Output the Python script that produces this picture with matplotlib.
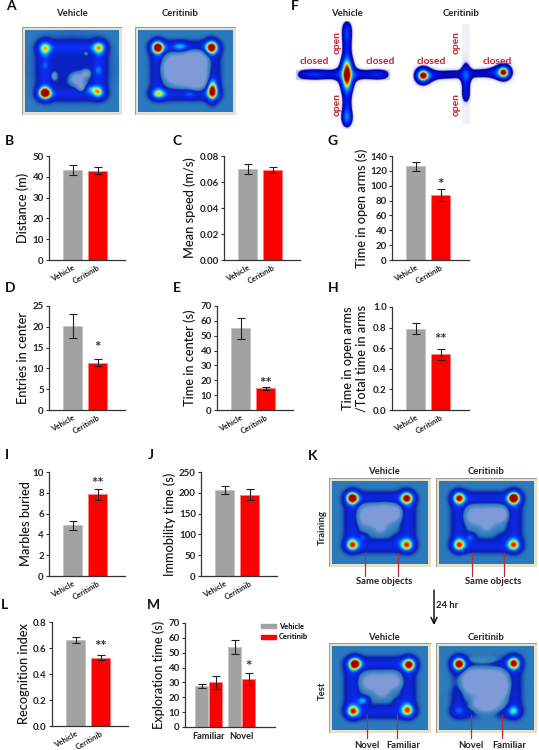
import numpy as np
import matplotlib
matplotlib.use("Agg")
import matplotlib.pyplot as plt
from matplotlib.colors import LinearSegmentedColormap
from matplotlib.patches import Rectangle, Patch
from matplotlib.transforms import ScaledTranslation

W, H = 539, 750
plt.rcParams['font.family'] = ['Lato', 'DejaVu Sans']

GRAY = "#a2a2a2"
RED = "#ff0000"
groups = ["Vehicle", "Ceritinib"]

# bar values
dist_val, dist_err = [43.5, 43.0], [2.4, 1.8]
speed_val, speed_err = [0.070, 0.0695], [0.0036, 0.0022]
entries_val, entries_err = [20.2, 11.4], [2.85, 0.75]
center_val, center_err = [55, 14.5], [7.2, 0.8]
open_val, open_err = [126, 87], [6, 8]
ratio_val, ratio_err = [0.79, 0.54], [0.05, 0.056]
marbles_val, marbles_err = [4.9, 7.85], [0.43, 0.5]
immob_val, immob_err = [206, 195], [10, 13]
recog_val, recog_err = [0.66, 0.525], [0.022, 0.018]
explore_labels = ["Familiar", "Novel"]
explore_veh, explore_veh_err = [27.8, 54], [1.4, 4.8]
explore_cer, explore_cer_err = [30, 32.3], [4.2, 4.2]

# heat map spots: x, y, amplitude, sigma x, sigma y (fractions of the box)
TRACK_X = [0.2, 0.28, 0.36, 0.44, 0.52, 0.6, 0.68, 0.76, 0.8]
TRACK_Y = [0.22, 0.3, 0.38, 0.46, 0.54, 0.62, 0.7, 0.78]

a_veh_hot = [(.21, .22, .3, .045, .06), (.79, .21, .28, .045, .055), (.21, .77, .72, .045, .05),
             (.72, .72, .25, .055, .035), (.78, .76, .2, .035, .035), (.21, .43, .08, .03, .03),
             (.78, .49, .12, .03, .035), (.5, .45, .1, .2, .2)]
a_veh_holes = [(.31, .56, .28, .02, .03), (.56, .6, .5, .05, .05), (.65, .53, .38, .03, .03),
               (.65, .28, .16, .02, .02), (.6, .7, .3, .03, .04)]
a_cer_hot = [(.205, .21, .72, .042, .052), (.445, .2, .25, .055, .035), (.775, .21, .62, .042, .055),
             (.785, .735, .58, .035, .08), (.215, .78, .3, .05, .04), (.545, .785, .13, .04, .03),
             (.2, .38, .06, .03, .03)]
a_cer_holes = [(.38, .45, .6, .08, .09), (.6, .4, .7, .09, .09), (.5, .58, .5, .12, .07),
               (.63, .6, .42, .06, .08)]

ktr_veh_hot = [(.21, .2, .72, .043, .05), (.78, .2, .55, .043, .05), (.21, .77, .45, .043, .05),
               (.78, .77, .38, .043, .05), (.32, .68, .2, .035, .035), (.69, .7, .12, .04, .04)]
ktr_veh_holes = [(.38, .42, .5, .07, .08), (.55, .4, .5, .08, .08), (.66, .38, .34, .04, .05),
                 (.5, .55, .34, .04, .05)]
ktr_cer_hot = [(.21, .2, .55, .043, .05), (.79, .2, .72, .043, .05), (.21, .77, .45, .043, .05),
               (.79, .77, .38, .043, .05), (.33, .68, .25, .035, .035), (.68, .68, .08, .05, .04)]
ktr_cer_holes = [(.38, .42, .42, .07, .07), (.55, .42, .5, .08, .07), (.66, .4, .34, .04, .05),
                 (.5, .55, .24, .04, .04)]
kte_veh_hot = [(.24, .21, .72, .043, .05), (.81, .22, .58, .043, .05), (.22, .78, .47, .043, .05),
               (.79, .76, .38, .043, .05), (.32, .65, .36, .04, .035), (.70, .67, .12, .04, .035)]
kte_veh_holes = [(.42, .43, .5, .07, .06), (.6, .42, .5, .08, .06), (.52, .54, .34, .05, .05)]
kte_cer_hot = [(.21, .21, .72, .043, .05), (.79, .2, .58, .043, .05), (.19, .78, .06, .04, .04),
               (.79, .78, .18, .04, .045), (.32, .67, .08, .03, .03), (.65, .6, .04, .02, .02)]
kte_cer_holes = [(.36, .42, .65, .09, .09), (.55, .42, .65, .1, .09), (.5, .7, .55, .1, .07),
                 (.46, .17, .14, .12, .03), (.65, .5, .5, .05, .08)]

maze_veh = [(.5, .5, .72, .028, .075), (.5, .5, .35, .055, .095),
            (.5, .1, .1, .035, .08), (.5, .9, .2, .035, .06), (.2, .5, .1, .07, .03), (.78, .5, .08, .05, .03)]
for yy in [.07, .14, .21, .28, .35, .42, .58, .65, .72, .79, .86, .92]:
    maze_veh.append((.5, yy, .17, .032, .045))
for xx in [.08, .15, .22, .29, .36, .43, .57, .64, .71, .78, .85]:
    maze_veh.append((xx, .5, .17, .04, .036))

maze_cer = [(.1, .51, .78, .03, .03), (.1, .51, .32, .06, .065), (.85, .48, .78, .03, .03),
            (.85, .48, .32, .06, .06), (.5, .51, .28, .035, .06), (.5, .5, .12, .03, .13),
            (.5, .68, .22, .03, .06)]
for xx in [.14, .21, .28, .35, .42, .58, .65, .72, .78]:
    maze_cer.append((xx, .51 - (xx - .1) * .04, .15, .04, .036))

arena_stops = [(0, "#7f9ad8"), (.25, "#2b7cbc"), (.3, "#0b20b4"), (.45, "#0a2cf8"), (.58, "#0098ff"),
               (.68, "#30f0c8"), (.77, "#e8f040"), (.86, "#ff7000"), (1, "#9a0000")]
maze_stops = [(0, (1, 1, 1, 0)), (.1, (.75, .75, 1, .6)), (.14, "#00009a"), (.3, "#0018f0"), (.5, "#0090ff"),
              (.62, "#20f0d0"), (.72, "#e8f040"), (.84, "#ff7000"), (1, "#9a0000")]
arena_cmap = LinearSegmentedColormap.from_list("arena", arena_stops)
maze_cmap = LinearSegmentedColormap.from_list("maze", maze_stops)

fig = plt.figure(figsize=(W / 100, H / 100), dpi=100)


def px_axes(x0, y0, x1, y1):
    return fig.add_axes([x0 / W, 1 - y1 / H, (x1 - x0) / W, (y1 - y0) / H])


def field(spots, n=200):
    xx, yy = np.meshgrid(np.linspace(0, 1, n), np.linspace(0, 1, n))
    z = np.zeros_like(xx)
    for x, y, a, sx, sy in spots:
        z += a * np.exp(-(xx - x) ** 2 / (2 * sx ** 2) - (yy - y) ** 2 / (2 * sy ** 2))
    return z


def arena(box, hot, holes, track=0.1):
    ax = px_axes(*box)
    ax.axis("off")
    ax.add_patch(Rectangle((0, 0), 1, 1, fc="#e4e0cc", ec="#8a8a80", lw=0.6))
    spots = list(hot)
    for x in TRACK_X:
        spots += [(x, .21, track, .05, .05), (x, .78, track, .05, .05)]
    for y in TRACK_Y:
        spots += [(.21, y, track, .05, .05), (.79, y, track, .05, .05)]
    z = 0.25 + field(spots) - field(holes)
    ax.imshow(np.clip(z, 0, 1), cmap=arena_cmap, vmin=0, vmax=1, extent=(.03, .97, .965, .035),
              aspect="auto", interpolation="bilinear", zorder=3)
    ax.set_xlim(0, 1)
    ax.set_ylim(1, 0)


def maze(box, spots):
    ax = px_axes(*box)
    ax.set_xlim(0, 1)
    ax.set_ylim(1, 0)
    ax.axis("off")
    return ax, np.clip(field(spots, 260), 0, 1)


def two_bars(box, values, errs, ticks, fmt, ylabel, label_x, star=None, star_y=None, star_x=1):
    ax = px_axes(*box)
    ax.bar([0, 1], values, width=0.76, color=[GRAY, RED], edgecolor=["#c4c4c4", "#ff8080"], linewidth=0.6,
           yerr=errs, error_kw=dict(ecolor="#202020", elinewidth=0.8, capsize=3.2, capthick=0.8))
    left = -23.5 / 25
    ax.set_xlim(left, left + (box[2] - box[0]) / 25)
    style_axes(ax, ticks, fmt, ylabel, label_x, box)
    ax.set_xticks([0, 1])
    ax.set_xticklabels(groups, rotation=30, ha="right", rotation_mode="anchor", fontsize=5.6, fontweight="bold",
                       color="#222222")
    off = ScaledTranslation(5 / 100, 0, fig.dpi_scale_trans)
    for lab in ax.get_xticklabels():
        lab.set_transform(lab.get_transform() + off)
    ax.tick_params(axis="x", length=0, pad=2.5)
    if star:
        ax.text(star_x, star_y, star, ha="center", va="center", fontsize=11, fontweight="bold", color="#333333")
    return ax


def style_axes(ax, ticks, fmt, ylabel, label_x, box):
    ax.set_ylim(ticks[0], ticks[-1])
    ax.set_yticks(ticks)
    ax.set_yticklabels([fmt % t for t in ticks], fontsize=7, fontweight="bold", color="#222222")
    ax.tick_params(axis="y", length=2.2, width=0.8, pad=1.5, color="#333333")
    for s in ["top", "right"]:
        ax.spines[s].set_visible(False)
    for s in ["left", "bottom"]:
        ax.spines[s].set_linewidth(0.9)
        ax.spines[s].set_color("#333333")
    ax.set_ylabel(ylabel, fontsize=9.2, fontweight=500, color="#111111", linespacing=1.15, va="center")
    ax.yaxis.set_label_coords((label_x - box[0]) / (box[2] - box[0]), 0.5)


# heat maps, panels A and K
arena((22, 27, 122, 115), a_veh_hot, a_veh_holes)
arena((135, 27, 236, 115), a_cer_hot, a_cer_holes)
arena((329, 478, 431, 567), ktr_veh_hot, ktr_veh_holes)
arena((436, 478, 537, 567), ktr_cer_hot, ktr_cer_holes)
arena((329, 643, 431, 733), kte_veh_hot, kte_veh_holes)
arena((436, 643, 537, 733), kte_cer_hot, kte_cer_holes, track=0.085)

# plus maze, panel F
ax, z = maze((293, 21, 401, 129), maze_veh)
ax.add_patch(Rectangle((.03, .45), .07, .1, fc="#cccccc", ec="none"))
ax.add_patch(Rectangle((.84, .45), .06, .1, fc="#cccccc", ec="none"))
ax.imshow(z, cmap=maze_cmap, vmin=0, vmax=1, extent=(0, 1, 1, 0), aspect="auto", zorder=2)
ax, z = maze((412, 21, 520, 129), maze_cer)
ax.add_patch(Rectangle((.46, .03), .08, .92, fc="#f0f0f6", ec="none"))
ax.imshow(z, cmap=maze_cmap, vmin=0, vmax=1, extent=(0, 1, 1, 0), aspect="auto", zorder=2)

# bar panels
two_bars((49, 156, 125, 260), dist_val, dist_err, [0, 10, 20, 30, 40, 50], "%d", "Distance (m)", 23)
two_bars((224, 156, 300, 260), speed_val, speed_err, [0, .02, .04, .06, .08], "%.2f", "Mean speed (m/s)", 190)
two_bars((49, 306, 125, 410), entries_val, entries_err, [0, 5, 10, 15, 20, 25], "%d", "Entries in center", 23,
         "*", 15)
two_bars((217, 306, 293, 410), center_val, center_err, [0, 10, 20, 30, 40, 50, 60, 70], "%d", "Time in center (s)",
         190, "**", 17.8)
two_bars((392, 156, 469, 260), open_val, open_err, [0, 20, 40, 60, 80, 100, 120, 140], "%d",
         "Time in open arms (s)", 362, "*", 101)
two_bars((392, 307, 469, 410), ratio_val, ratio_err, [0, .2, .4, .6, .8, 1.0], "%.1f",
         "Time in open arms\n/Total time in arms", 355, "**", 0.68)
two_bars((49, 472, 125, 576), marbles_val, marbles_err, [0, 2, 4, 6, 8, 10], "%d", "Marbles buried", 26, "**", 8.8)
two_bars((201, 472, 277, 576), immob_val, immob_err, [0, 50, 100, 150, 200, 250], "%d", "Immobility time (s)", 170)
two_bars((52, 622, 128, 726), recog_val, recog_err, [0, .2, .4, .6, .8], "%.1f", "Recognition index", 24, "**", 0.61)

# panel M has grouped bars
box = (185, 623, 275, 727)
ax = px_axes(*box)
xs = np.arange(len(explore_labels))
ax.bar(xs - 7 / 33, explore_veh, width=13 / 33, color=GRAY, edgecolor="#c4c4c4", linewidth=0.6, yerr=explore_veh_err,
       error_kw=dict(ecolor="#202020", elinewidth=0.8, capsize=3, capthick=0.8), label="Vehicle")
ax.bar(xs + 7 / 33, explore_cer, width=13 / 33, color=RED, edgecolor="#ff8080", linewidth=0.6, yerr=explore_cer_err,
       error_kw=dict(ecolor="#202020", elinewidth=0.8, capsize=3, capthick=0.8), label="Ceritinib")
ax.set_xlim(-23.5 / 33, -23.5 / 33 + 90 / 33)
style_axes(ax, [0, 10, 20, 30, 40, 50, 60, 70], "%d", "Exploration time (s)", 159, box)
ax.set_xticks(xs)
ax.set_xticklabels(explore_labels, fontsize=6.6, fontweight="bold", color="#222222")
ax.tick_params(axis="x", length=0, pad=3.5)
ax.text(1 + 7 / 33, 40.3, "*", ha="center", va="center", fontsize=11, fontweight="bold", color="#333333")
ax.legend(handles=[Patch(color=GRAY, label="Vehicle"), Patch(color=RED, label="Ceritinib")], loc="upper left",
          bbox_to_anchor=(.84, 1.0), frameon=False, handlelength=2.0, handleheight=0.5,
          handletextpad=0.4, labelspacing=0.45, borderpad=0, borderaxespad=0,
          prop=dict(size=5.4, weight="bold"))

# overlay in pixel coordinates for the labels
ov = fig.add_axes([0, 0, 1, 1], facecolor="none")
ov.set_xlim(0, W)
ov.set_ylim(H, 0)
ov.axis("off")

letters = [("A", 11, 6), ("F", 295, 6), ("B", 10, 141), ("C", 177, 141), ("G", 333, 141), ("D", 10, 288),
           ("E", 177, 288), ("H", 333, 288), ("I", 7, 455), ("J", 151, 455), ("K", 313, 456), ("L", 4, 605),
           ("M", 153, 605)]
for name, x, y in letters:
    ov.text(x, y, name, fontsize=10, fontweight="bold", ha="center", va="center", color="#111111")

titles = [("Vehicle", 72, 14), ("Ceritinib", 180, 14), ("Vehicle", 347, 14), ("Ceritinib", 461, 14),
          ("Vehicle", 384, 471), ("Ceritinib", 486, 471), ("Vehicle", 384, 637), ("Ceritinib", 486, 637),
          ("Same objects", 384, 581), ("Same objects", 493, 581), ("Novel", 367, 746), ("Familiar", 403, 746),
          ("Novel", 471, 746), ("Familiar", 509, 746), ("24 hr", 447, 606)]
for name, x, y in titles:
    ov.text(x, y, name, fontsize=6.8, fontweight="bold", ha="center", va="center", color="#222222")
ov.text(322, 528, "Training", fontsize=6.8, fontweight="bold", rotation=90, ha="center", va="center", color="#222222")
ov.text(322, 691, "Test", fontsize=6.8, fontweight="bold", rotation=90, ha="center", va="center", color="#222222")

maze_closed = [(314, 62), (380, 62), (431, 62), (497, 62)]
maze_open = [(337, 42), (337, 105), (456, 42), (456, 105)]
for x, y in maze_closed:
    ov.text(x, y, "closed", fontsize=7.4, fontweight="bold", ha="center", va="center", color="#c8202a")
for x, y in maze_open:
    ov.text(x, y, "open", fontsize=7.4, fontweight="bold", rotation=90, ha="center", va="center", color="#c8202a")

for x in [365, 398, 472, 504]:
    ov.plot([x, x], [553, 576], color="#c0283a", lw=0.9)
for x in [367, 397, 471, 502]:
    ov.plot([x, x], [715, 738], color="#c0283a", lw=0.9)
ov.annotate("", xy=(434, 625), xytext=(434, 590), arrowprops=dict(arrowstyle="->", color="black", lw=1,
                                                                   mutation_scale=11, shrinkA=0, shrinkB=0))

fig.savefig("out.png", dpi=100)
